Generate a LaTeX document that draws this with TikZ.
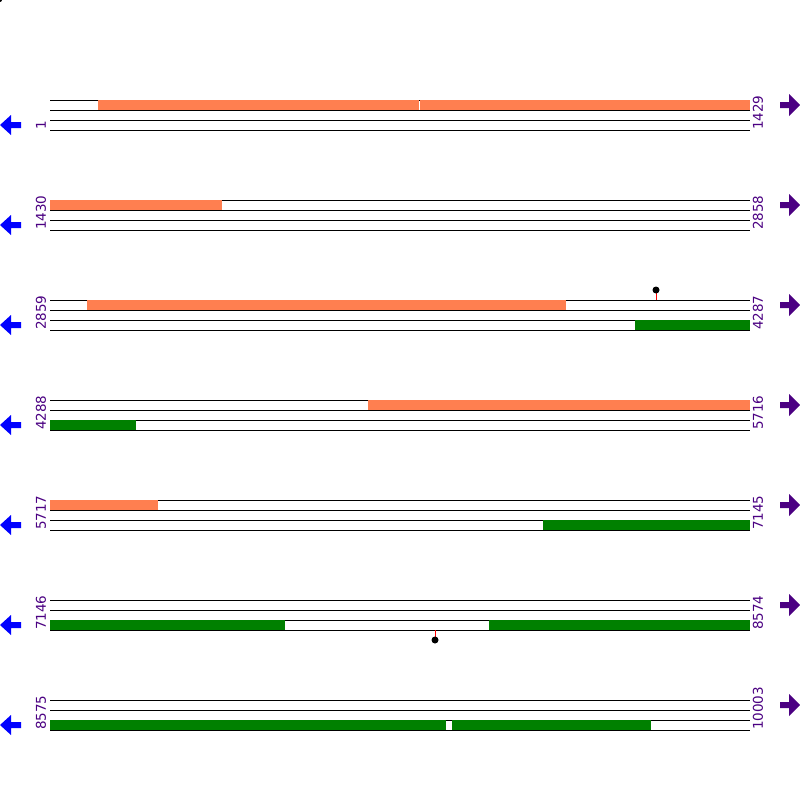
\documentclass[tikz,border=0pt]{standalone}
\usepackage{fontspec}
\setmainfont{DejaVu Sans}
\definecolor{featorange}{RGB}{255,127,80}
\definecolor{featgreen}{RGB}{0,128,0}
\definecolor{numpurple}{RGB}{75,0,130}
\definecolor{arrblue}{RGB}{0,0,255}
\tikzset{
  strand/.style={black, line width=1pt},
  obar/.style={fill=featorange},
  gbar/.style={fill=featgreen},
  numlabel/.style={rotate=90, anchor=west, inner sep=0pt, text=numpurple, font=\fontsize{13.5}{14}\selectfont},
  stick/.style={red, line width=1pt},
  knob/.style={fill=black},
  larrow/.style={fill=arrblue},
  rarrow/.style={fill=numpurple}
}
\begin{document}
\begin{tikzpicture}[x=1pt,y=-1pt]
\useasboundingbox (0,0) rectangle (800,800);
\fill[white] (0,0) rectangle (800,800);
\fill[black] (0,0) circle (2);
% strands and arrows and labels per row
\foreach \y/\l/\r [count=\i] in {100/1/1429, 200/1430/2858, 300/2859/4287, 400/4288/5716, 500/5717/7145, 600/7146/8574, 700/8575/10003}{
  \foreach \d in {0,10,20,30}{
    \draw[strand] (50,\y+\d) -- (750,\y+\d);
  }
  \node[numlabel] (left\i) at (41,\y+30) {\l};
  \node[numlabel] (right\i) at (758,\y+30) {\r};
  \fill[larrow] (0,\y+25) -- (11,\y+15) -- (11,\y+22) -- (21,\y+22) -- (21,\y+28) -- (11,\y+28) -- (11,\y+35) -- cycle;
  \fill[rarrow] (800,\y+5) -- (789,\y-6) -- (789,\y+2) -- (780,\y+2) -- (780,\y+8) -- (789,\y+8) -- (789,\y+16) -- cycle;
}
% row 1
\fill[obar] (98,100) rectangle (419,110);
\fill[obar] (420,100) rectangle (750,110);
% row 2
\fill[obar] (50,200) rectangle (222,210);
% row 3
\fill[obar] (87,300) rectangle (566,310);
\fill[gbar] (635,320) rectangle (750,330);
% row 4
\fill[obar] (368,400) rectangle (750,410);
\fill[gbar] (50,420) rectangle (136,430);
% row 5
\fill[obar] (50,500) rectangle (158,510);
\fill[gbar] (543,520) rectangle (750,530);
% row 6
\fill[gbar] (50,620) rectangle (285,630);
\fill[gbar] (489,620) rectangle (750,630);
% row 7
\fill[gbar] (50,720) rectangle (446,730);
\fill[gbar] (452,720) rectangle (651,730);
% lollipops
\draw[stick] (656,300) -- (656,290);
\fill[knob] (656,290) circle (3.5);
\draw[stick] (435,630) -- (435,640);
\fill[knob] (435,640) circle (3.5);
\end{tikzpicture}
\end{document}
